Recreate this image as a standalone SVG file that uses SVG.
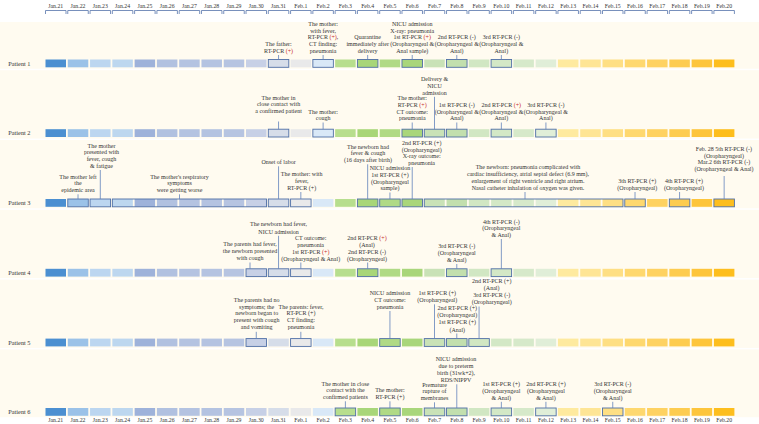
<svg xmlns="http://www.w3.org/2000/svg" width="759" height="424" viewBox="0 0 759 424">
<style>
.bg{fill:#fffbf0}
.t{font-family:"Liberation Serif","Times New Roman",serif;font-size:6px;fill:#333;text-anchor:middle}
.d{font-size:5.8px}
.p{font-size:6.3px;text-anchor:start}
.r{fill:#c62828}
.b{fill:none;stroke:#4f6fa6;stroke-width:0.9}
.c{stroke:#6283bb;stroke-width:0.8;fill:none}
.ax{fill:none;stroke:#5574ab;stroke-width:0.8}
.c0{fill:#4b8fd1}.c1{fill:#9bc2e8}.c2{fill:#bcd6f0}.c3{fill:#bdd7ef}.c4{fill:#9eb2da}.c5{fill:#b1c1e0}.c6{fill:#b4c3e1}.c7{fill:#b4c3e1}.c8{fill:#b6c4e1}.c9{fill:#c7d0e6}
.c10{fill:#d6dde9}.c11{fill:#e9e9ea}.c12{fill:#d9e8f7}.c13{fill:#b7de8e}.c14{fill:#a8d679}.c15{fill:#b0da86}.c16{fill:#a9d67b}.c17{fill:#c9e2b7}.c18{fill:#c2dfae}.c19{fill:#d1e7c3}
.c20{fill:#d3e8c6}.c21{fill:#d6e9ca}.c22{fill:#e0eed8}.c23{fill:#feea9f}.c24{fill:#fee595}.c25{fill:#fedf84}.c26{fill:#fed86f}.c27{fill:#fed262}.c28{fill:#fdcc50}.c29{fill:#fdc53c}.c30{fill:#fdbe1e}
</style>
<defs>
<g id="row">
<rect class="c0" x="45.5" y="0" width="20.5" height="7.8"/>
<rect class="c1" x="67.78" y="0" width="20.5" height="7.8"/>
<rect class="c2" x="90.06" y="0" width="20.5" height="7.8"/>
<rect class="c3" x="112.34" y="0" width="20.5" height="7.8"/>
<rect class="c4" x="134.62" y="0" width="20.5" height="7.8"/>
<rect class="c5" x="156.9" y="0" width="20.5" height="7.8"/>
<rect class="c6" x="179.18" y="0" width="20.5" height="7.8"/>
<rect class="c7" x="201.46" y="0" width="20.5" height="7.8"/>
<rect class="c8" x="223.74" y="0" width="20.5" height="7.8"/>
<rect class="c9" x="246.02" y="0" width="20.5" height="7.8"/>
<rect class="c10" x="268.3" y="0" width="20.5" height="7.8"/>
<rect class="c11" x="290.58" y="0" width="20.5" height="7.8"/>
<rect class="c12" x="312.86" y="0" width="20.5" height="7.8"/>
<rect class="c13" x="335.14" y="0" width="20.5" height="7.8"/>
<rect class="c14" x="357.42" y="0" width="20.5" height="7.8"/>
<rect class="c15" x="379.7" y="0" width="20.5" height="7.8"/>
<rect class="c16" x="401.98" y="0" width="20.5" height="7.8"/>
<rect class="c17" x="424.26" y="0" width="20.5" height="7.8"/>
<rect class="c18" x="446.54" y="0" width="20.5" height="7.8"/>
<rect class="c19" x="468.82" y="0" width="20.5" height="7.8"/>
<rect class="c20" x="491.1" y="0" width="20.5" height="7.8"/>
<rect class="c21" x="513.38" y="0" width="20.5" height="7.8"/>
<rect class="c22" x="535.66" y="0" width="20.5" height="7.8"/>
<rect class="c23" x="557.94" y="0" width="20.5" height="7.8"/>
<rect class="c24" x="580.22" y="0" width="20.5" height="7.8"/>
<rect class="c25" x="602.5" y="0" width="20.5" height="7.8"/>
<rect class="c26" x="624.78" y="0" width="20.5" height="7.8"/>
<rect class="c27" x="647.06" y="0" width="20.5" height="7.8"/>
<rect class="c28" x="669.34" y="0" width="20.5" height="7.8"/>
<rect class="c29" x="691.62" y="0" width="20.5" height="7.8"/>
<rect class="c30" x="713.9" y="0" width="20.5" height="7.8"/>
</g>
<g id="dates">
<text class="t d" x="55.75">Jan.21</text><text class="t d" x="78.03">Jan.22</text><text class="t d" x="100.31">Jan.23</text><text class="t d" x="122.59">Jan.24</text><text class="t d" x="144.87">Jan.25</text><text class="t d" x="167.15">Jan.26</text><text class="t d" x="189.43">Jan.27</text><text class="t d" x="211.71">Jan.28</text><text class="t d" x="233.99">Jan.29</text><text class="t d" x="256.27">Jan.30</text><text class="t d" x="278.55">Jan.31</text><text class="t d" x="300.83">Feb.1</text><text class="t d" x="323.11">Feb.2</text><text class="t d" x="345.39">Feb.3</text><text class="t d" x="367.67">Feb.4</text><text class="t d" x="389.95">Feb.5</text><text class="t d" x="412.23">Feb.6</text><text class="t d" x="434.51">Feb.7</text><text class="t d" x="456.79">Feb.8</text><text class="t d" x="479.07">Feb.9</text><text class="t d" x="501.35">Feb.10</text><text class="t d" x="523.63">Feb.11</text><text class="t d" x="545.91">Feb.12</text><text class="t d" x="568.19">Feb.13</text><text class="t d" x="590.47">Feb.14</text><text class="t d" x="612.75">Feb.15</text><text class="t d" x="635.03">Feb.16</text><text class="t d" x="657.31">Feb.17</text><text class="t d" x="679.59">Feb.18</text><text class="t d" x="701.87">Feb.19</text><text class="t d" x="724.15">Feb.20</text>
</g>
</defs>
<rect width="759" height="424" fill="#ffffff"/>
<g id="panels">
<rect class="bg" x="0" y="22" width="759" height="46.7"/>
<rect class="bg" x="0" y="70.2" width="759" height="68.3"/>
<rect class="bg" x="0" y="140" width="759" height="68.3"/>
<rect class="bg" x="0" y="209.8" width="759" height="68.3"/>
<rect class="bg" x="0" y="279.6" width="759" height="68.3"/>
<rect class="bg" x="0" y="349.4" width="759" height="67.8"/>
</g>
<g id="axis-top">
<use href="#dates" y="7.7"/>
<path class="ax" d="M45.5 14V10.5H66V14M67.78 14V10.5H88.28V14M90.06 14V10.5H110.56V14M112.34 14V10.5H132.84V14M134.62 14V10.5H155.12V14M156.9 14V10.5H177.4V14M179.18 14V10.5H199.68V14M201.46 14V10.5H221.96V14M223.74 14V10.5H244.24V14M246.02 14V10.5H266.52V14M268.3 14V10.5H288.8V14M290.58 14V10.5H311.08V14M312.86 14V10.5H333.36V14M335.14 14V10.5H355.64V14M357.42 14V10.5H377.92V14M379.7 14V10.5H400.2V14M401.98 14V10.5H422.48V14M424.26 14V10.5H444.76V14M446.54 14V10.5H467.04V14M468.82 14V10.5H489.32V14M491.1 14V10.5H511.6V14M513.38 14V10.5H533.88V14M535.66 14V10.5H556.16V14M557.94 14V10.5H578.44V14M580.22 14V10.5H600.72V14M602.5 14V10.5H623V14M624.78 14V10.5H645.28V14M647.06 14V10.5H667.56V14M669.34 14V10.5H689.84V14M691.62 14V10.5H712.12V14M713.9 14V10.5H734.4V14"/>
</g>
<g id="axis-bottom"><use href="#dates" y="421.8"/></g>

<g id="patient-1">
<text class="t p" x="8.3" y="65.6">Patient 1</text>
<use href="#row" y="59.5"/>
<rect class="b" x="268.3" y="59.5" width="20.5" height="7.8"/><rect class="b" x="312.86" y="59.5" width="20.5" height="7.8"/><rect class="b" x="357.42" y="59.5" width="20.5" height="7.8"/><rect class="b" x="401.98" y="59.5" width="20.5" height="7.8"/><rect class="b" x="446.54" y="59.5" width="20.5" height="7.8"/><rect class="b" x="491.1" y="59.5" width="20.5" height="7.8"/>
</g>
<g id="p1-father"><text class="t"><tspan x="278.55" y="46">The father:</tspan><tspan x="278.55" y="52.7">RT-PCR <tspan class="r">(+)</tspan></tspan></text></g>
<g id="p1-mother"><text class="t"><tspan x="323.11" y="25.9">The mother:</tspan><tspan x="323.11" y="32.6">with fever,</tspan><tspan x="323.11" y="39.3">RT-PCR <tspan class="r">(+)</tspan>,</tspan><tspan x="323.11" y="46">CT finding:</tspan><tspan x="323.11" y="52.7">pneumonia</tspan></text></g>
<g id="p1-quarantine"><text class="t"><tspan x="367.67" y="39.3">Quarantine</tspan><tspan x="367.67" y="46">immediately after</tspan><tspan x="367.67" y="52.7">delivery</tspan></text></g>
<g id="p1-nicu"><text class="t"><tspan x="412.23" y="25.9">NICU admission</tspan><tspan x="412.23" y="32.6">X-ray: pneumonia</tspan><tspan x="412.23" y="39.3">1st RT-PCR <tspan class="r">(+)</tspan></tspan><tspan x="412.23" y="46">(Oropharyngeal &amp;</tspan><tspan x="412.23" y="52.7">Anal sample)</tspan></text></g>
<g id="p1-2nd"><text class="t"><tspan x="456.79" y="39.3">2nd RT-PCR (-)</tspan><tspan x="456.79" y="46">(Oropharyngeal &amp;</tspan><tspan x="456.79" y="52.7">Anal)</tspan></text></g>
<g id="p1-3rd"><text class="t"><tspan x="501.35" y="39.3">3rd RT-PCR (-)</tspan><tspan x="501.35" y="46">(Oropharyngeal &amp;</tspan><tspan x="501.35" y="52.7">Anal)</tspan></text></g>

<g id="patient-2">
<text class="t p" x="8.3" y="135.3">Patient 2</text>
<use href="#row" y="129.2"/>
<rect class="b" x="268.3" y="129.2" width="20.5" height="7.8"/><rect class="b" x="312.86" y="129.2" width="20.5" height="7.8"/><rect class="b" x="401.98" y="129.2" width="20.5" height="7.8"/><rect class="b" x="424.26" y="129.2" width="20.5" height="7.8"/><rect class="b" x="446.54" y="129.2" width="20.5" height="7.8"/><rect class="b" x="491.1" y="129.2" width="20.5" height="7.8"/><rect class="b" x="535.66" y="129.2" width="20.5" height="7.8"/>
</g>
<g id="p2-contact"><text class="t"><tspan x="278.55" y="99.5">The mother in</tspan><tspan x="278.55" y="106.3">close contact with</tspan><tspan x="278.55" y="113.1">a confirmed patient</tspan></text></g>
<g id="p2-cough"><text class="t"><tspan x="323.11" y="113.5">The mother:</tspan><tspan x="323.11" y="120.3">cough</tspan></text></g>
<g id="p2-delivery"><text class="t"><tspan x="434.51" y="81.3">Delivery &amp;</tspan><tspan x="434.51" y="88">NICU</tspan><tspan x="434.51" y="94.7">admission</tspan></text></g>
<g id="p2-mother"><text class="t"><tspan x="412.23" y="100.3">The mother:</tspan><tspan x="412.23" y="107">RT-PCR <tspan class="r">(+)</tspan></tspan><tspan x="412.23" y="113.7">CT outcome:</tspan><tspan x="412.23" y="120.4">pneumonia</tspan></text></g>
<g id="p2-1st"><text class="t"><tspan x="456.79" y="107">1st RT-PCR (-)</tspan><tspan x="456.79" y="113.7">(Oropharyngeal &amp;</tspan><tspan x="456.79" y="120.4">Anal)</tspan></text></g>
<g id="p2-2nd"><text class="t"><tspan x="501.35" y="107">2nd RT-PCR <tspan class="r">(+)</tspan></tspan><tspan x="501.35" y="113.7">(Oropharyngeal &amp;</tspan><tspan x="501.35" y="120.4">Anal)</tspan></text></g>
<g id="p2-3rd"><text class="t"><tspan x="545.91" y="107">3rd RT-PCR (-)</tspan><tspan x="545.91" y="113.7">(Oropharyngeal &amp;</tspan><tspan x="545.91" y="120.4">Anal)</tspan></text></g>

<g id="patient-3">
<text class="t p" x="8.3" y="205.1">Patient 3</text>
<use href="#row" y="199"/>
<rect class="b" x="67.78" y="199" width="20.5" height="7.8"/><rect class="b" x="90.06" y="199" width="20.5" height="7.8"/><rect class="b" x="112.34" y="199" width="154.18" height="7.8"/><rect class="b" x="268.3" y="199" width="20.5" height="7.8"/><rect class="b" x="290.58" y="199" width="20.5" height="7.8"/><rect class="b" x="357.42" y="199" width="20.5" height="7.8"/><rect class="b" x="379.7" y="199" width="20.5" height="7.8"/><rect class="b" x="401.98" y="199" width="20.5" height="7.8"/><rect class="b" x="424.26" y="199" width="198.74" height="7.8"/><rect class="b" x="624.78" y="199" width="20.5" height="7.8"/><rect class="b" x="669.34" y="199" width="20.5" height="7.8"/><rect class="b" x="713.9" y="199" width="20.5" height="7.8"/>
</g>
<g id="p3-left"><text class="t"><tspan x="78.03" y="178.7">The mother left</tspan><tspan x="78.03" y="185.4">the</tspan><tspan x="78.03" y="192.1">epidemic area</tspan></text></g>
<g id="p3-presented"><text class="t"><tspan x="101.5" y="147.7">The mother</tspan><tspan x="101.5" y="154.4">presented with</tspan><tspan x="101.5" y="161.1">fever, cough</tspan><tspan x="101.5" y="167.8">&amp; fatigue</tspan></text></g>
<g id="p3-respiratory"><text class="t"><tspan x="179.5" y="178.7">The mother's respiratory</tspan><tspan x="179.5" y="185.4">symptoms</tspan><tspan x="179.5" y="192.1">were getting worse</tspan></text></g>
<g id="p3-labor"><text class="t" x="278.55" y="164">Onset of labor</text></g>
<g id="p3-fever"><text class="t"><tspan x="301.7" y="176.3">The mother: with</tspan><tspan x="301.7" y="183">fever,</tspan><tspan x="301.7" y="189.7">RT-PCR (+)</tspan></text></g>
<g id="p3-newborn"><text class="t"><tspan x="368" y="148.7">The newborn had</tspan><tspan x="368" y="155.4">fever &amp; cough</tspan><tspan x="368" y="162.1">(16 days after birth)</tspan></text></g>
<g id="p3-nicu"><text class="t"><tspan x="389.95" y="170.3">NICU admission</tspan><tspan x="389.95" y="177">1st RT-PCR (+)</tspan><tspan x="389.95" y="183.7">(Oropharyngeal</tspan><tspan x="389.95" y="190.4">sample)</tspan></text></g>
<g id="p3-2nd"><text class="t"><tspan x="421.7" y="145.2">2nd RT-PCR (+)</tspan><tspan x="421.7" y="151.7">(Oropharyngeal)</tspan><tspan x="421.7" y="158.2">X-ray outcome:</tspan><tspan x="421.7" y="164.8">pneumonia</tspan></text></g>
<g id="p3-pneumonia"><text class="t"><tspan x="528" y="169.3">The newborn: pneumonia complicated with</tspan><tspan x="528" y="176.2">cardiac insufficiency, atrial septal defect (6.9 mm),</tspan><tspan x="528" y="183">enlargement of right ventricle and right atrium.</tspan><tspan x="528" y="189.7">Nasal catheter inhalation of oxygen was given.</tspan></text></g>
<g id="p3-3th"><text class="t"><tspan x="637.3" y="183">3th RT-PCR (+)</tspan><tspan x="637.3" y="189.7">(Oropharyngeal)</tspan></text></g>
<g id="p3-4th"><text class="t"><tspan x="684" y="183">4th RT-PCR (+)</tspan><tspan x="684" y="189.7">(Oropharyngeal)</tspan></text></g>
<g id="p3-5th"><text class="t"><tspan x="724" y="151">Feb. 28 5th RT-PCR (-)</tspan><tspan x="724" y="157.7">(Oropharyngeal)</tspan><tspan x="724" y="164.4">Mar.2 6th RT-PCR (-)</tspan><tspan x="724" y="171.1">(Oropharyngeal &amp; Anal)</tspan></text></g>

<g id="patient-4">
<text class="t p" x="8.3" y="274.9">Patient 4</text>
<use href="#row" y="268.8"/>
<rect class="b" x="246.02" y="268.8" width="20.5" height="7.8"/><rect class="b" x="268.3" y="268.8" width="20.5" height="7.8"/><rect class="b" x="290.58" y="268.8" width="20.5" height="7.8"/><rect class="b" x="357.42" y="268.8" width="20.5" height="7.8"/><rect class="b" x="446.54" y="268.8" width="20.5" height="7.8"/><rect class="b" x="491.1" y="268.8" width="20.5" height="7.8"/>
</g>
<g id="p4-parents"><text class="t"><tspan x="250" y="246.3">The parents had fever,</tspan><tspan x="250" y="253.3">the newborn presented</tspan><tspan x="250" y="260.3">with cough</tspan></text></g>
<g id="p4-newborn"><text class="t"><tspan x="278.55" y="226.3">The newborn had fever,</tspan><tspan x="278.55" y="233.5">NICU admission</tspan></text></g>
<g id="p4-ct"><text class="t"><tspan x="310.7" y="239.7">CT outcome:</tspan><tspan x="310.7" y="246.5">pneumonia</tspan><tspan x="310.7" y="253.5">1st RT-PCR <tspan class="r">(+)</tspan></tspan><tspan x="310.7" y="260.5">(Oropharyngeal &amp; Anal)</tspan></text></g>
<g id="p4-2nd"><text class="t"><tspan x="367" y="239.7">2nd RT-PCR <tspan class="r">(+)</tspan></tspan><tspan x="367" y="246.5">(Anal)</tspan><tspan x="367" y="253.5">2nd RT-PCR (-)</tspan><tspan x="367" y="260.5">(Oropharyngeal)</tspan></text></g>
<g id="p4-3rd"><text class="t"><tspan x="456.79" y="248">3rd RT-PCR (-)</tspan><tspan x="456.79" y="255">(Oropharyngeal</tspan><tspan x="456.79" y="262">&amp; Anal)</tspan></text></g>
<g id="p4-4th"><text class="t"><tspan x="501.35" y="223.7">4th RT-PCR (-)</tspan><tspan x="501.35" y="230.4">(Oropharyngeal</tspan><tspan x="501.35" y="237">&amp; Anal)</tspan></text></g>

<g id="patient-5">
<text class="t p" x="8.3" y="344.7">Patient 5</text>
<use href="#row" y="338.6"/>
<rect class="b" x="246.02" y="338.6" width="20.5" height="7.8"/><rect class="b" x="290.58" y="338.6" width="20.5" height="7.8"/><rect class="b" x="379.7" y="338.6" width="20.5" height="7.8"/><rect class="b" x="424.26" y="338.6" width="20.5" height="7.8"/><rect class="b" x="446.54" y="338.6" width="20.5" height="7.8"/><rect class="b" x="468.82" y="338.6" width="20.5" height="7.8"/>
</g>
<g id="p5-nosym"><text class="t"><tspan x="256.7" y="302">The parents had no</tspan><tspan x="256.7" y="308.7">symptoms; the</tspan><tspan x="256.7" y="315.4">newborn began to</tspan><tspan x="256.7" y="322.4">present with cough</tspan><tspan x="256.7" y="329.4">and vomiting</tspan></text></g>
<g id="p5-fever"><text class="t"><tspan x="301" y="308.7">The parents: fever,</tspan><tspan x="301" y="315.4">RT-PCR (+)</tspan><tspan x="301" y="322.4">CT finding:</tspan><tspan x="301" y="329.4">pneumonia</tspan></text></g>
<g id="p5-nicu"><text class="t"><tspan x="390" y="295.3">NICU admission</tspan><tspan x="390" y="302">CT outcome:</tspan><tspan x="390" y="308.7">pneumonia</tspan></text></g>
<g id="p5-1st"><text class="t"><tspan x="437.3" y="295.3">1st RT-PCR (+)</tspan><tspan x="437.3" y="302">(Oropharyngeal)</tspan></text></g>
<g id="p5-2nd"><text class="t"><tspan x="457.3" y="310.3">2nd RT-PCR (+)</tspan><tspan x="457.3" y="317">(Oropharyngeal)</tspan><tspan x="457.3" y="324.3">1st RT-PCR (+)</tspan><tspan x="457.3" y="331.5">(Anal)</tspan></text></g>
<g id="p5-3rd"><text class="t"><tspan x="491.7" y="282.7">2nd RT-PCR (+)</tspan><tspan x="491.7" y="289.7">(Anal)</tspan><tspan x="491.7" y="297">3rd RT-PCR (-)</tspan><tspan x="491.7" y="304.3">(Oropharyngeal)</tspan></text></g>

<g id="patient-6">
<text class="t p" x="8.3" y="414.1">Patient 6</text>
<use href="#row" y="408"/>
<rect class="b" x="335.14" y="408" width="20.5" height="7.8"/><rect class="b" x="379.7" y="408" width="20.5" height="7.8"/><rect class="b" x="424.26" y="408" width="20.5" height="7.8"/><rect class="b" x="446.54" y="408" width="20.5" height="7.8"/><rect class="b" x="491.1" y="408" width="20.5" height="7.8"/><rect class="b" x="535.66" y="408" width="20.5" height="7.8"/><rect class="b" x="602.5" y="408" width="20.5" height="7.8"/>
</g>
<g id="p6-contact"><text class="t"><tspan x="345.39" y="385.5">The mother in close</tspan><tspan x="345.39" y="392.3">contact with the</tspan><tspan x="345.39" y="399.1">confirmed patients</tspan></text></g>
<g id="p6-mother"><text class="t"><tspan x="389.95" y="392.3">The mother:</tspan><tspan x="389.95" y="399.1">RT-PCR (+)</tspan></text></g>
<g id="p6-premature"><text class="t"><tspan x="434.51" y="386.5">Premature</tspan><tspan x="434.51" y="393.3">rupture of</tspan><tspan x="434.51" y="400.1">membranes</tspan></text></g>
<g id="p6-nicu"><text class="t"><tspan x="456" y="360.7">NICU admission</tspan><tspan x="456" y="367.8">due to preterm</tspan><tspan x="456" y="374.9">birth (31wk+2),</tspan><tspan x="456" y="382">RDS/NIPPV</tspan></text></g>
<g id="p6-1st"><text class="t"><tspan x="501.35" y="386.2">1st RT-PCR (+)</tspan><tspan x="501.35" y="393">(Oropharyngeal</tspan><tspan x="501.35" y="399.8">&amp; Anal)</tspan></text></g>
<g id="p6-2nd"><text class="t"><tspan x="545.91" y="386.2">2nd RT-PCR (+)</tspan><tspan x="545.91" y="393">(Oropharyngeal</tspan><tspan x="545.91" y="399.8">&amp; Anal)</tspan></text></g>
<g id="p6-3rd"><text class="t"><tspan x="612.75" y="386.2">3rd RT-PCR (-)</tspan><tspan x="612.75" y="393">(Oropharyngeal</tspan><tspan x="612.75" y="399.8">&amp; Anal)</tspan></text></g>

<g id="connectors" class="c">
<path d="M278.55 55V59.5M323.11 55V59.5M367.67 55V59.5M412.23 55V59.5M456.79 55V59.5M501.35 55V59.5"/>
<path d="M278.55 121.5V129.2M323.11 122.5V129.2M434.51 96.8V129.2M412.23 122.5V129.2M456.79 122.5V129.2M501.35 122.5V129.2M545.91 122.5V129.2"/>
<path d="M78.03 194.3V199M100.31 170V199M179.5 194.3V199M278.55 166.3V199M300.83 192V199M367.67 164.3V199M389.95 192.5V199M412.23 167V199M525 192V199M635.03 192V199M679.59 192V199M724.15 176V199"/>
<path d="M250 262.5V268.8M278.55 235.8V268.8M300.83 262.5V268.8M367.67 262.5V268.8M456.79 264V268.8M501.35 239V268.8"/>
<path d="M256.27 331.8V338.6M300.83 331.8V338.6M389.95 311V338.6M434.51 304.3V338.6M456.79 333.5V338.6M479.07 306.5V338.6"/>
<path d="M345.39 401.3V408M389.95 401.3V408M434.51 402.3V408M456.79 384.3V408M501.35 401.8V408M545.91 401.8V408M612.75 401.8V408"/>
</g>
</svg>
